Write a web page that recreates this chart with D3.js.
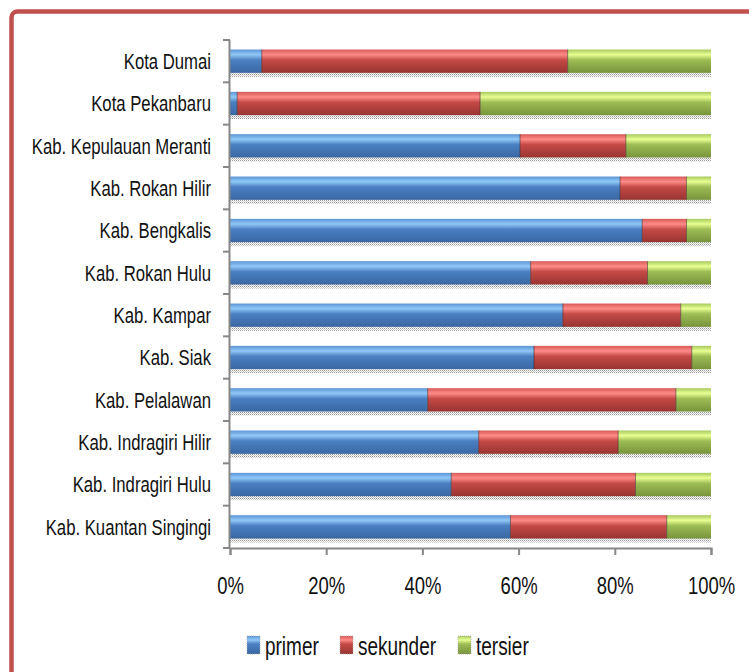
<!DOCTYPE html>
<html>
<head>
<meta charset="utf-8">
<script src="https://cdn.jsdelivr.net/npm/d3@7"></script>
<style>
  body { margin: 0; background: #fff; }
  svg text { font-family: "Liberation Sans", Arial, sans-serif; fill: #111; }
</style>
</head>
<body>
<svg id="chart" width="749" height="672"></svg>
<script>
// kabupaten / kota, top to bottom as drawn
var regions = ['Kota Dumai', 'Kota Pekanbaru', 'Kab. Kepulauan Meranti', 'Kab. Rokan Hilir',
    'Kab. Bengkalis', 'Kab. Rokan Hulu', 'Kab. Kampar', 'Kab. Siak', 'Kab. Pelalawan',
    'Kab. Indragiri Hilir', 'Kab. Indragiri Hulu', 'Kab. Kuantan Singingi'];

// share of each sector (%)
var primer   = [6.6, 1.5, 60.3, 81.1, 85.7, 62.5, 69.2, 63.2, 41.1, 51.7, 46.0, 58.3];
var sekunder = [63.6, 50.5, 22.0, 13.8, 9.2, 24.3, 24.5, 32.8, 51.6, 29.0, 38.3, 32.5];
var tersier  = [29.8, 48.0, 17.7, 5.1, 5.1, 13.2, 6.3, 4.0, 7.3, 19.3, 15.7, 9.2];

var seriesNames = ['primer', 'sekunder', 'tersier'];
var xTicks = [0, 0.2, 0.4, 0.6, 0.8, 1];

var palette = {
    primer:   { top: '#5d95d6', hi: '#8fc8f7', mid: '#4a80c2', low: '#3a67a2' },
    sekunder: { top: '#d65a57', hi: '#ff8b88', mid: '#c44a47', low: '#983431' },
    tersier:  { top: '#a7c95e', hi: '#e8ff92', mid: '#9dbd55', low: '#77943b' }
};

// the original font is a tall narrow face; squeeze Liberation Sans to match
function squeezed(sel, sx) {
    return sel.attr('transform', function() {
        var t = d3.select(this).attr('transform') || '';
        return t + ' scale(' + sx + ',1)';
    });
}

var svg = d3.select('#chart');
var margin = { left: 230, right: 38, top: 40, bottom: 124 };
var width = 749 - margin.left - margin.right,
    height = 672 - margin.top - margin.bottom;

var defs = svg.append('defs');

seriesNames.forEach(function(name) {
    var c = palette[name];
    var grad = defs.append('linearGradient')
        .attr('id', 'grad-' + name)
        .attr('x1', 0).attr('y1', 0).attr('x2', 0).attr('y2', 1);
    grad.append('stop').attr('offset', '0%').attr('stop-color', c.top);
    grad.append('stop').attr('offset', '22%').attr('stop-color', c.hi);
    grad.append('stop').attr('offset', '45%').attr('stop-color', c.mid);
    grad.append('stop').attr('offset', '100%').attr('stop-color', c.low);
});

// dotted shadow under the bars
var pat = defs.append('pattern')
    .attr('id', 'dots')
    .attr('width', 2).attr('height', 2)
    .attr('patternUnits', 'userSpaceOnUse');
pat.append('rect').attr('width', 1).attr('height', 1).attr('fill', '#9a9a9a');
pat.append('rect').attr('x', 1).attr('y', 1).attr('width', 1).attr('height', 1).attr('fill', '#c8c8c8');

// outer frame
svg.append('rect')
    .attr('x', 11.5).attr('y', 11.5)
    .attr('width', 800).attr('height', 720)
    .attr('rx', 6)
    .attr('fill', 'none')
    .attr('stroke', '#c0504d')
    .attr('stroke-width', 4.5);

var g = svg.append('g')
    .attr('transform', 'translate(' + margin.left + ',' + margin.top + ')');

var x = d3.scaleLinear().domain([0, 1]).range([0, width]);
var y = d3.scaleBand().domain(regions).range([0, height]).paddingInner(0.45).paddingOuter(0.225);

var rows = regions.map(function(r, i) {
    return { region: r, primer: primer[i] / 100, sekunder: sekunder[i] / 100, tersier: tersier[i] / 100 };
});
var stacked = d3.stack().keys(seriesNames)
    .offset(d3.stackOffsetExpand)(rows);

// shadows first
g.selectAll('.shadow')
    .data(rows)
    .enter().append('rect')
    .attr('class', 'shadow')
    .attr('x', 0)
    .attr('y', function(d) { return y(d.region) + y.bandwidth() - 1; })
    .attr('width', x(1))
    .attr('height', 5)
    .attr('fill', 'url(#dots)');

var layer = g.selectAll('.layer')
    .data(stacked)
    .enter().append('g')
    .attr('class', 'layer')
    .attr('fill', function(d) { return 'url(#grad-' + d.key + ')'; });

layer.selectAll('rect')
    .data(function(d) { return d; })
    .enter().append('rect')
    .attr('x', function(d) { return x(d[0]); })
    .attr('y', function(d) { return y(d.data.region); })
    .attr('width', function(d) { return x(d[1]) - x(d[0]); })
    .attr('height', y.bandwidth());

// thin dark seams between segments
layer.filter(function(d, i) { return i > 0; })
    .selectAll('line')
    .data(function(d) { return d; })
    .enter().append('line')
    .attr('x1', function(d) { return x(d[0]); })
    .attr('x2', function(d) { return x(d[0]); })
    .attr('y1', function(d) { return y(d.data.region); })
    .attr('y2', function(d) { return y(d.data.region) + y.bandwidth(); })
    .attr('stroke', 'rgba(60,30,30,0.55)')
    .attr('stroke-width', 1);

// y axis: line + ticks at band boundaries
var axisColor = '#878787';
g.append('line')
    .attr('x1', -0.5).attr('x2', -0.5)
    .attr('y1', 0).attr('y2', height)
    .attr('stroke', axisColor).attr('stroke-width', 2);

g.selectAll('.ytick')
    .data(d3.range(regions.length + 1))
    .enter().append('line')
    .attr('class', 'ytick')
    .attr('x1', -7).attr('x2', 0)
    .attr('y1', function(i) { return i * height / regions.length; })
    .attr('y2', function(i) { return i * height / regions.length; })
    .attr('stroke', axisColor).attr('stroke-width', 2);

g.selectAll('.ylabel')
    .data(regions)
    .enter().append('text')
    .attr('class', 'ylabel')
    .attr('transform', function(d) {
        return 'translate(-19,' + (y(d) + y.bandwidth() / 2) + ')';
    })
    .attr('dy', '0.35em')
    .attr('text-anchor', 'end')
    .style('font-size', '22px')
    .text(function(d) { return d; })
    .call(squeezed, 0.76);

// x axis
var xAxis = g.append('g')
    .attr('transform', 'translate(0,' + height + ')')
    .call(d3.axisBottom(x).tickValues(xTicks).tickFormat(d3.format('.0%')).tickSize(7).tickPadding(22));
xAxis.select('.domain').attr('stroke', axisColor).attr('stroke-width', 2);
xAxis.selectAll('.tick line').attr('stroke', axisColor).attr('stroke-width', 2);
xAxis.selectAll('.tick text')
    .style('font-size', '24px')
    .style('font-family', '"Liberation Sans", Arial, sans-serif')
    .attr('fill', '#111')
    .call(squeezed, 0.77);

// legend
var legendX = [247, 340, 458];
var legend = svg.append('g').attr('transform', 'translate(0,655)');
seriesNames.forEach(function(name, i) {
    var item = legend.append('g').attr('transform', 'translate(' + legendX[i] + ',0)');
    item.append('rect')
        .attr('x', 0).attr('y', -19)
        .attr('width', 13).attr('height', 18)
        .attr('fill', 'url(#grad-' + name + ')')
        .attr('stroke', '#aaa')
        .attr('stroke-width', 0.8)
        .attr('stroke-dasharray', '1,1');
    item.append('text')
        .attr('transform', 'translate(18,0)')
        .style('font-size', '26px')
        .text(name)
        .call(squeezed, 0.73);
});
</script>
</body>
</html>
